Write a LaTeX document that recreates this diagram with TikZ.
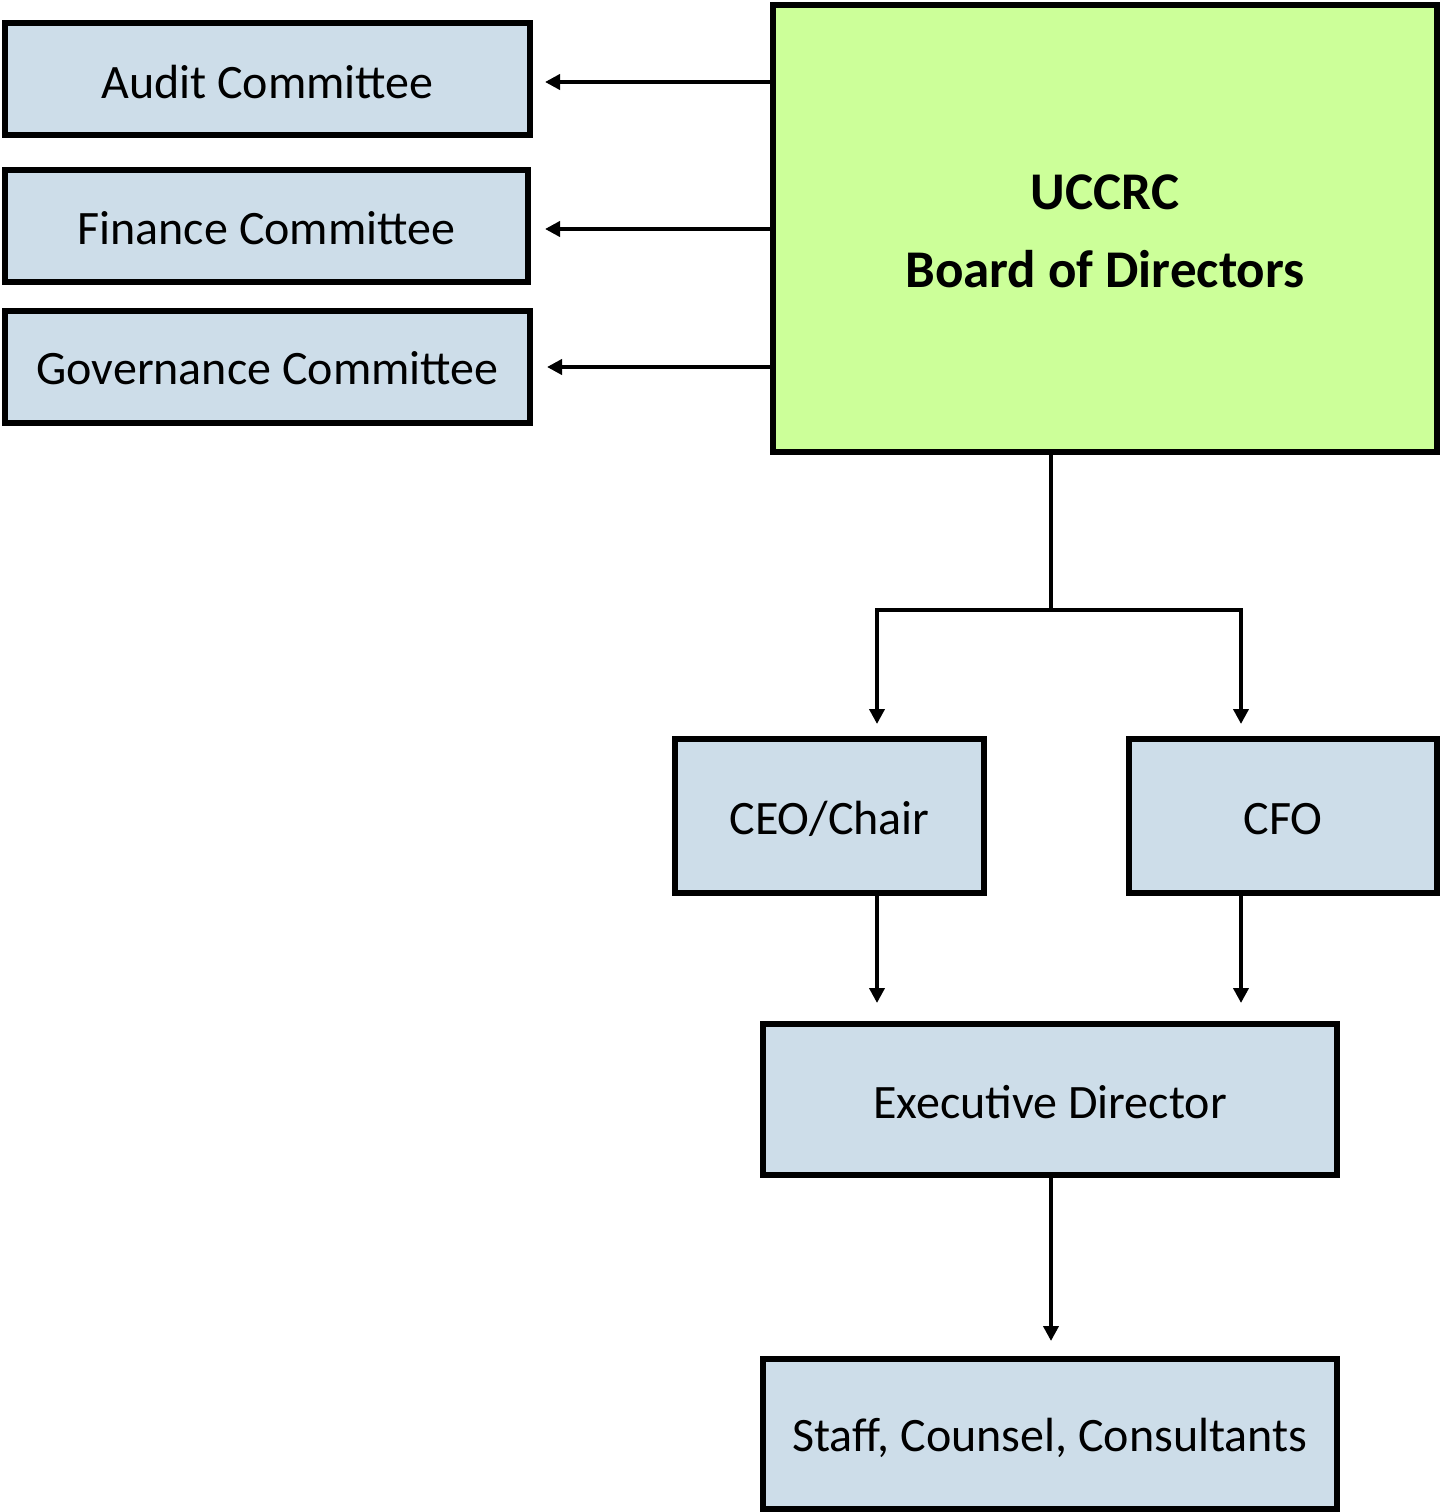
\documentclass[tikz,border=0pt]{standalone}
\usepackage{fontspec}
\setmainfont{Carlito}
\usetikzlibrary{arrows.meta}
\definecolor{boxblue}{RGB}{205,221,233}
\definecolor{boardgreen}{RGB}{204,255,153}
\newcommand{\lowertext}[2]{\raisebox{-#1pt}[\height][\depth]{#2}}
\begin{document}
\begin{tikzpicture}[x=1pt,y=-1pt,
  box/.style={draw=black,line width=6pt,fill=boxblue,inner sep=0pt,font=\fontsize{48}{56}\selectfont},
  board/.style={draw=black,line width=6pt,fill=boardgreen,inner sep=0pt},
  boardtext/.style={inner sep=0pt,align=center,font=\fontsize{53}{78}\selectfont\bfseries},
  conn/.style={line width=4pt},
  arr/.style={line width=4pt,-{Triangle[length=15pt,width=15pt]}}]
\useasboundingbox (0,0) rectangle (1442,1512);
\node[box,minimum width=525pt,minimum height=112pt] (audit) at (267.5,79) {\lowertext{3}{Audit Committee}};
\node[box,minimum width=523pt,minimum height=112pt] (finance) at (266.5,226) {\lowertext{2}{Finance Committee}};
\node[box,minimum width=525pt,minimum height=112pt] (gov) at (267.5,367) {\lowertext{1}{Governance Committee}};
\node[board,minimum width=664pt,minimum height=447pt] (board) at (1105,228.5) {};
\node[boardtext] (boardlabel) at ([yshift=-3pt]board.center) {UCCRC\\Board of Directors};
\node[box,minimum width=309pt,minimum height=154pt] (ceo) at (829.5,816) {\lowertext{3}{CEO/Chair}};
\node[box,minimum width=308pt,minimum height=154pt] (cfo) at (1283,816) {\lowertext{3}{CFO}};
\node[box,minimum width=574pt,minimum height=151pt] (ed) at (1050,1099.5) {\lowertext{3}{Executive Director}};
\node[box,minimum width=574pt,minimum height=150pt] (staff) at (1050,1434) {\lowertext{4}{Staff, Counsel, Consultants}};
\draw[arr] (board.west |- 0,82) -- ([xshift=12pt]audit.east |- 0,82);
\draw[arr] (board.west |- 0,229) -- ([xshift=14pt]finance.east |- 0,229);
\draw[arr] (board.west |- gov.east) -- ([xshift=14pt]gov.east);
\coordinate (bj) at (1051,610);
\coordinate (jl) at (877,610);
\coordinate (jr) at (1241,610);
\draw[conn] (bj |- board.south) -- (bj);
\draw[conn] ([xshift=-2pt]jl) -- ([xshift=2pt]jr);
\draw[arr] (jl) -- ([yshift=12pt]jl |- ceo.north);
\draw[arr] (jr) -- ([yshift=12pt]jr |- cfo.north);
\draw[arr] (jl |- ceo.south) -- ([yshift=18pt]jl |- ed.north);
\draw[arr] (jr |- cfo.south) -- ([yshift=18pt]jr |- ed.north);
\draw[arr] (bj |- ed.south) -- ([yshift=15pt]bj |- staff.north);
\end{tikzpicture}
\end{document}
